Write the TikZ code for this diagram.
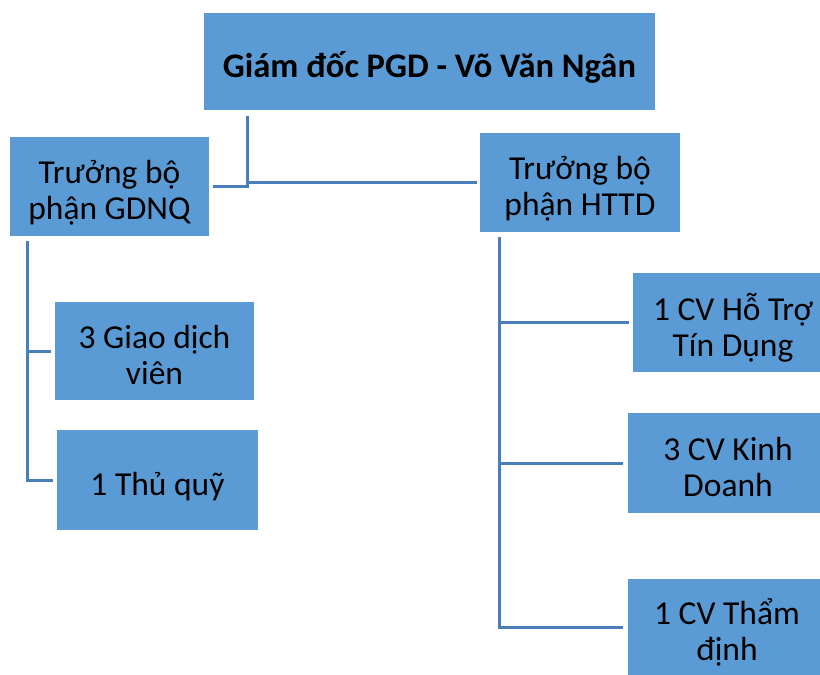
\documentclass[tikz,border=0pt]{standalone}
\usepackage{fontspec}
\setmainfont{Carlito}
\definecolor{boxblue}{HTML}{5B9BD5}
\definecolor{lineblue}{HTML}{4A7EBB}
\newcommand{\orgtxt}[1]{\raisebox{-8pt}[\height][\depth]{\begin{tabular}{@{}c@{}}#1\end{tabular}}}
\begin{document}
\begin{tikzpicture}[x=1pt,y=-1pt,
  orgbox/.style={rectangle, fill=boxblue, draw=none, inner sep=0pt,
    font=\fontsize{33.5}{36}\selectfont, text=black},
  conn/.style={draw=lineblue, line width=3pt}]
\useasboundingbox (0,0) rectangle (820,675);
\clip (0,0) rectangle (820,675);
\node[orgbox, minimum width=451pt, minimum height=97pt, font=\bfseries\fontsize{34.5}{36}\selectfont] (top) at (429.5,61.5) {\orgtxt{Giám đốc PGD - Võ Văn Ngân}};
\node[orgbox, minimum width=199pt, minimum height=99pt] (gdnq) at (109.5,186.5) {\orgtxt{Trưởng bộ\\phận GDNQ}};
\node[orgbox, minimum width=200pt, minimum height=99pt] (httd) at (580,182.5) {\orgtxt{Trưởng bộ\\phận HTTD}};
\node[orgbox, minimum width=199pt, minimum height=98pt] (gdv) at (154.5,351) {\orgtxt{3 Giao dịch\\viên}};
\node[orgbox, minimum width=201pt, minimum height=100pt] (tq) at (157.5,480) {\orgtxt{1 Thủ quỹ}};
\node[orgbox, minimum width=200pt, minimum height=99pt] (ht) at (733,322.5) {\orgtxt{1 CV Hỗ Trợ\\Tín Dụng}};
\node[orgbox, minimum width=200pt, minimum height=100pt] (kd) at (728,463) {\orgtxt{3 CV Kinh\\Doanh}};
\node[orgbox, minimum width=198pt, minimum height=96pt] (td) at (727,627) {\orgtxt{1 CV Thẩm\\định}};
\coordinate (j) at (247,116);
\coordinate (lt) at (27,241);
\coordinate (rt) at (499,237);
\draw[conn] (j) |- ([xshift=4pt]gdnq.east);
\draw[conn] (j |- httd.west) -- ([xshift=-3pt]httd.west);
\draw[conn] (lt) |- ([xshift=-4pt]tq.west);
\draw[conn] (lt |- gdv.west) -- ([xshift=-4pt]gdv.west);
\draw[conn] (rt) |- ([xshift=-5pt]td.west);
\draw[conn] (rt |- ht.west) -- ([xshift=-4pt]ht.west);
\draw[conn] (rt |- kd.west) -- ([xshift=-5pt]kd.west);
\end{tikzpicture}
\end{document}
